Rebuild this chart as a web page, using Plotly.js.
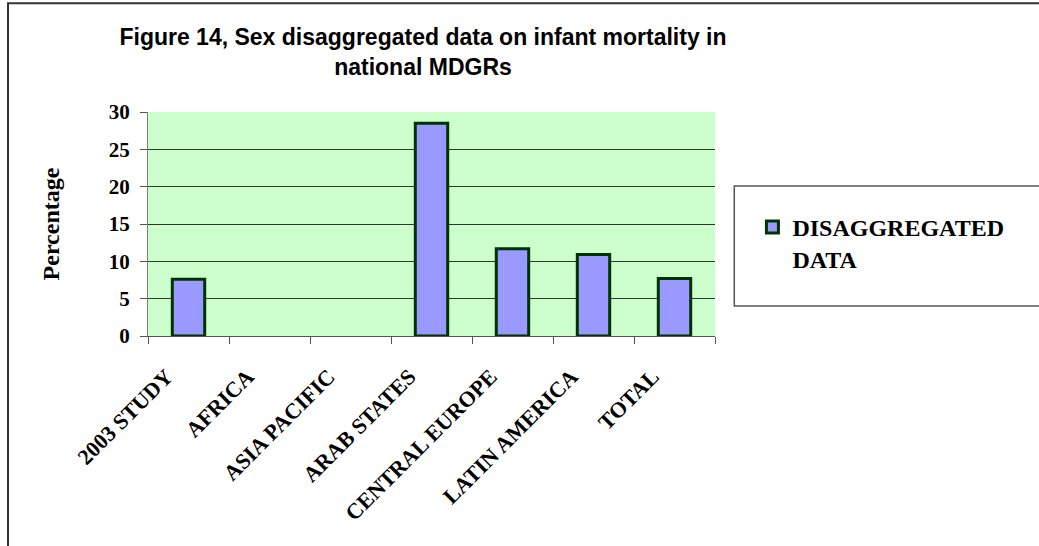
<!DOCTYPE html>
<html>
<head>
<meta charset="utf-8">
<script src="https://cdn.plot.ly/plotly-3.0.1.min.js"></script>
<style>
html,body{margin:0;padding:0;background:#fff;}
#chart{width:1039px;height:546px;}
</style>
</head>
<body>
<div id="chart"></div>
<script>
const categories = ["2003 STUDY", "AFRICA", "ASIA PACIFIC", "ARAB STATES", "CENTRAL EUROPE", "LATIN AMERICA", "TOTAL"];
const disaggregated = [7.6, null, null, 28.5, 11.7, 10.9, 7.7];
const seriesName = "DISAGGREGATED<br>DATA";
const yTicks = [0, 5, 10, 15, 20, 25, 30];

const serif = '"Liberation Serif", "Times New Roman", serif';

const trace = {
  type: "bar",
  x: categories,
  y: disaggregated,
  name: seriesName,
  width: 0.4,
  marker: {color: "#9999FF", line: {color: "#003300", width: 3}},
  hoverinfo: "x+y"
};

const layout = {
  width: 1039, height: 546,
  margin: {l: 148, r: 324, t: 112, b: 210, pad: 0},
  paper_bgcolor: "#ffffff",
  plot_bgcolor: "#CCFFCC",
  font: {family: "Liberation Serif", color: "#000", weight: "bold"},
  showlegend: true,
  title: {
    text: "Figure 14, Sex disaggregated data on infant mortality in<br>national MDGRs",
    font: {family: '"Liberation Sans", Arial, sans-serif', size: 23, color: "#000", weight: "bold"},
    xref: "paper", x: 0.485, xanchor: "center",
    yref: "container", y: 1 - 45/546, yanchor: "top"
  },
  xaxis: {
    type: "category",
    tickangle: -45,
    tickfont: {family: serif, size: 22, color: "#000", weight: "bold"},
    ticks: "outside", ticklen: 7, tickcolor: "#555", tickwidth: 1,
    tickson: "boundaries",
    showline: true, linecolor: "#555", linewidth: 1,
    showgrid: false,
    ticklabelstandoff: 18,
    ticklabelshift: -22,
    range: [-0.5, 6.5]
  },
  yaxis: {
    range: [0, 30],
    tickvals: yTicks,
    ticktext: yTicks.map(String),
    tickfont: {family: serif, size: 21, color: "#000", weight: "bold"},
    ticks: "outside", ticklen: 7, tickcolor: "#555", tickwidth: 1,
    ticklabelstandoff: 6,
    showline: true, linecolor: "#6a8a6a", linewidth: 1,
    showgrid: true, gridcolor: "#333333", gridwidth: 1,
    zeroline: false,
    title: {text: "Percentage", font: {family: serif, size: 24, color: "#000", weight: "bold"}, standoff: 42}
  },
  legend: {
    x: 1.066, xanchor: "left",
    y: 0.585, yanchor: "top",
    valign: "top",
    bgcolor: "rgba(0,0,0,0)",
    borderwidth: 0,
    font: {family: serif, size: 24, color: "#000", weight: "bold"}
  },
  shapes: [
    {type: "rect", xref: "paper", yref: "paper", x0: 1.034, x1: 1.7, y0: 0.134, y1: 0.670,
     line: {color: "#555", width: 1.5}, fillcolor: "rgba(0,0,0,0)"},
    {type: "rect", xref: "paper", yref: "paper", x0: -0.2469, x1: 1.8, y0: -1.2, y1: 1.485,
     line: {color: "#333", width: 2}, fillcolor: "rgba(0,0,0,0)"}
  ]
};

Plotly.newPlot("chart", [trace], layout, {displayModeBar: false, staticPlot: true});
</script>
</body>
</html>
